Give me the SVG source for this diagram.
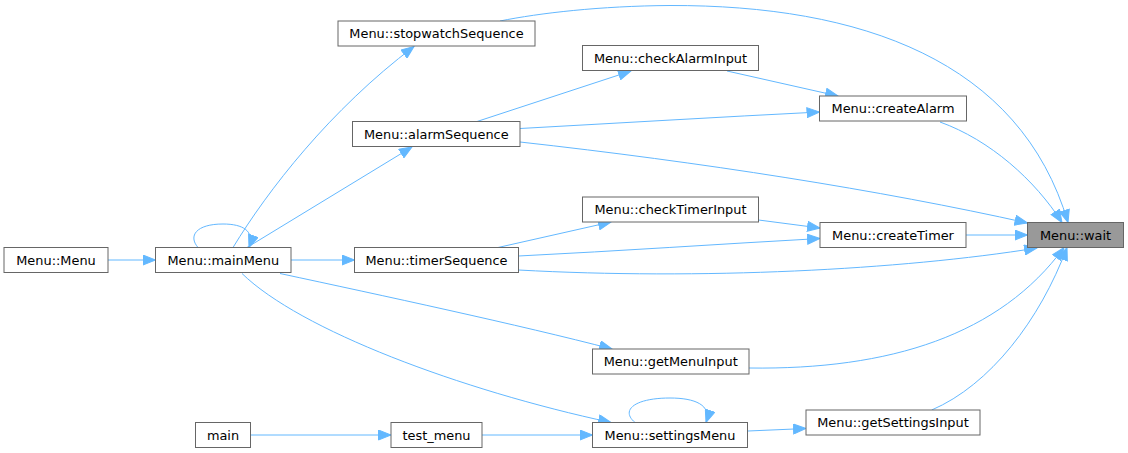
<svg xmlns="http://www.w3.org/2000/svg" width="1128" height="453" viewBox="0 0 1128 453">
<style>
.node rect{fill:#ffffff;stroke:#666666;stroke-width:1}
.node.cur rect{fill:#999999}
.node text{font-family:"DejaVu Sans","Liberation Sans",sans-serif;font-size:12.9px;fill:#000000;text-anchor:middle}
.edges path{fill:none;stroke:#63b8ff;stroke-width:1;marker-end:url(#ah)}
</style>
<defs>
<marker id="ah" markerUnits="userSpaceOnUse" markerWidth="14" markerHeight="11" viewBox="0 0 14 11" refX="13" refY="5.5" orient="auto">
<path d="M0.5,0.5 L13,5.5 L0.5,10.5 z" fill="#63b8ff" stroke="#63b8ff" stroke-width="1"/>
</marker>
</defs>
<rect width="1128" height="453" fill="#ffffff"/>
<g class="edges" id="edges">
<path d="M108,260 L155.5,260"/>
<path d="M198,247.5 C188,236 196,224 223,224 C243,224 255,231 249,247.5"/>
<path d="M233,247.5 C268,190 330,110 414,46.5"/>
<path d="M247,247.5 L412,147"/>
<path d="M291,260 L354.5,260"/>
<path d="M280,273.5 C380,295 520,325 612,349"/>
<path d="M242,273.5 C300,330 460,390 611,422.5"/>
<path d="M477,121.5 L631,71"/>
<path d="M520,128.5 C620,123 720,117 819.5,112"/>
<path d="M520,142 C700,162 880,190 1027.5,223"/>
<path d="M727,71 L838,96"/>
<path d="M940,122 C990,140 1035,180 1062,222.5"/>
<path d="M500,21 C540,13 600,6 670,5.5 C860,5 1020,60 1068,222.5"/>
<path d="M498,247.5 L611,222"/>
<path d="M518.5,256 C620,251 720,244 820,238.5"/>
<path d="M518.5,270 C700,280 900,270 1037,248"/>
<path d="M758.5,220 L820,228"/>
<path d="M966,235 L1027.5,235"/>
<path d="M749,368 C890,370 1000,335 1064,247.5"/>
<path d="M635,422.5 C620,410 635,398 670,398 C695,398 712,405 706,422.5"/>
<path d="M748,431 L806,428.5"/>
<path d="M931.7,410 C990,385 1040,320 1067,247.5"/>
<path d="M251,435 L391,435"/>
<path d="M482,435 L592.5,435"/>
</g>
<g class="node cur" id="node-wait"><rect x="1027.5" y="222.5" width="96" height="25"/><text x="1075.5" y="239.5">Menu::wait</text></g>
<g class="node" id="node-stopwatchSequence"><rect x="338" y="21" width="197" height="25"/><text x="436.5" y="38">Menu::stopwatchSequence</text></g>
<g class="node" id="node-checkAlarmInput"><rect x="582.5" y="45.5" width="176" height="25"/><text x="670.5" y="62.5">Menu::checkAlarmInput</text></g>
<g class="node" id="node-createAlarm"><rect x="819.5" y="96" width="147" height="25"/><text x="893" y="113">Menu::createAlarm</text></g>
<g class="node" id="node-alarmSequence"><rect x="352.5" y="121.5" width="167.5" height="25"/><text x="436.3" y="138.5">Menu::alarmSequence</text></g>
<g class="node" id="node-checkTimerInput"><rect x="582.5" y="197" width="176" height="25"/><text x="670.5" y="214">Menu::checkTimerInput</text></g>
<g class="node" id="node-createTimer"><rect x="820" y="222.5" width="146" height="25"/><text x="893" y="239.5">Menu::createTimer</text></g>
<g class="node" id="node-Menu"><rect x="4" y="247.5" width="104" height="25"/><text x="56" y="264.5">Menu::Menu</text></g>
<g class="node" id="node-mainMenu"><rect x="155.5" y="247.5" width="135.5" height="25"/><text x="223.3" y="264.5">Menu::mainMenu</text></g>
<g class="node" id="node-timerSequence"><rect x="354.5" y="247.5" width="164" height="25"/><text x="436.5" y="264.5">Menu::timerSequence</text></g>
<g class="node" id="node-getMenuInput"><rect x="592.5" y="349" width="156.5" height="25"/><text x="670.7" y="366">Menu::getMenuInput</text></g>
<g class="node" id="node-main"><rect x="195.5" y="422.5" width="55" height="25"/><text x="223" y="439.5">main</text></g>
<g class="node" id="node-test_menu"><rect x="391" y="422.5" width="91" height="25"/><text x="436.5" y="439.5">test_menu</text></g>
<g class="node" id="node-settingsMenu"><rect x="592.5" y="422.5" width="155" height="25"/><text x="670" y="439.5">Menu::settingsMenu</text></g>
<g class="node" id="node-getSettingsInput"><rect x="806" y="410" width="174" height="25"/><text x="893" y="427">Menu::getSettingsInput</text></g>
</svg>
